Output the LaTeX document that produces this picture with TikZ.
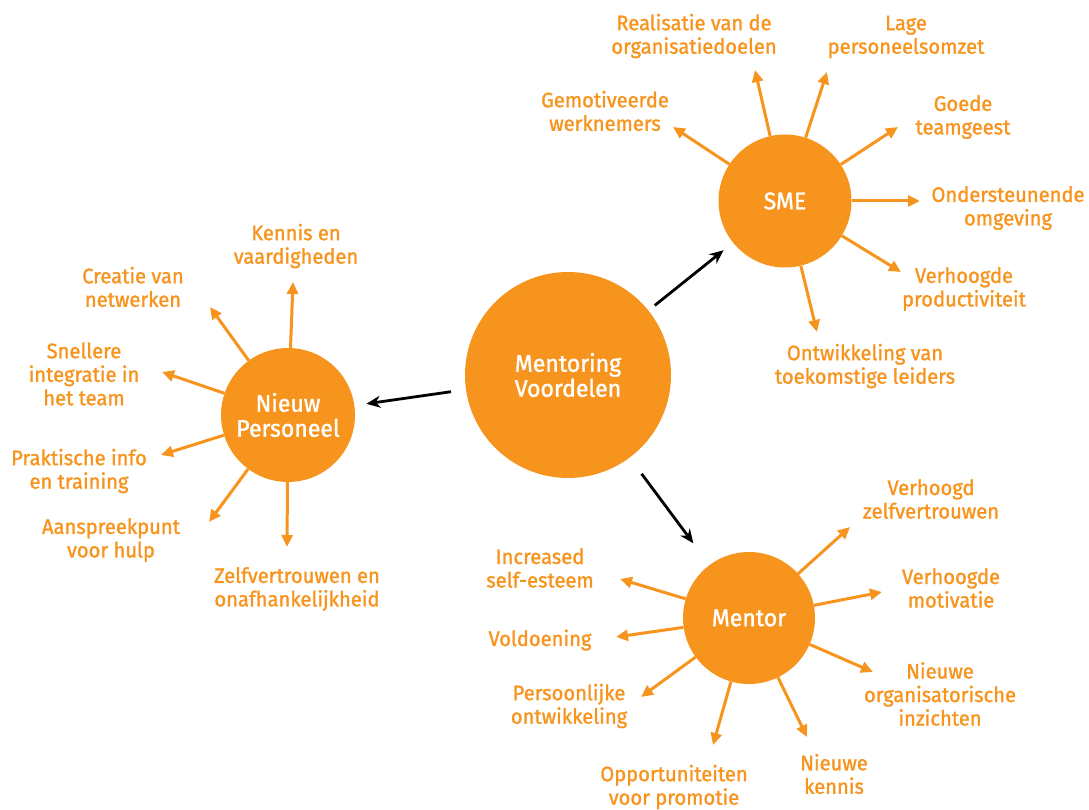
\documentclass[tikz,border=0pt]{standalone}
\usepackage{fontspec}
\setmainfont{Fira Sans}[FakeStretch=0.96,FakeBold=1.3]
\usetikzlibrary{arrows.meta}
\definecolor{mentororange}{RGB}{247,148,30}

\begin{document}
\begin{tikzpicture}[x=1pt,y=-1pt]
\useasboundingbox (0,0) rectangle (1089,810);
% circles
\begin{scope}[every node/.style={circle,fill=mentororange,text=white,align=center,inner sep=0pt,font=\fontsize{24}{25}\selectfont}]
    \node[minimum size=206pt] (MV) at (568,375) {Mentoring\\Voordelen};
    \node[minimum size=133pt] (SME) at (785,201) {SME};
    \node[minimum size=134pt] (NP) at (288,415) {Nieuw\\Personeel};
    \node[minimum size=132pt] (M) at (749,618) {Mentor};
\end{scope}
% labels
\begin{scope}[every node/.style={text=mentororange,align=center,inner sep=0pt,font=\fontsize{21}{23.5}\selectfont}]
    \node (gemotiveerd) at (605,111) {Gemotiveerde\\werknemers};
    \node (realisatie) at (694,36) {Realisatie van de\\organisatiedoelen};
    \node (omzet) at (906,37) {Lage\\personeelsomzet};
    \node (teamgeest) at (963,117) {Goede\\teamgeest};
    \node (omgeving) at (1008,208) {Ondersteunende\\omgeving};
    \node (productief) at (964,289) {Verhoogde\\productiviteit};
    \node (leiders) at (865,366) {Ontwikkeling van\\toekomstige leiders};
    \node (kennis) at (296,246) {Kennis en\\vaardigheden};
    \node (netwerk) at (133,287) {Creatie van\\netwerken};
    \node (integratie) at (84,374) {Snellere\\integratie in\\het team};
    \node (info) at (79,471) {Praktische info\\en training};
    \node (hulp) at (111,540) {Aanspreekpunt\\voor hulp};
    \node (onafh) at (297,589) {Zelfvertrouwen en\\onafhankelijkheid};
    \node (esteem) at (540,568) {Increased\\self-esteem};
    \node (voldoening) at (540,640) {Voldoening};
    \node (persoonlijk) at (569,706) {Persoonlijke\\ontwikkeling};
    \node (promotie) at (674,787) {Opportuniteiten\\voor promotie};
    \node (nkennis) at (834,774) {Nieuwe\\kennis};
    \node (zelfv) at (931,499) {Verhoogd\\zelfvertrouwen};
    \node (motivatie) at (951,588) {Verhoogde\\motivatie};
    \node (inzicht) at (940,694) {Nieuwe\\organisatorische\\inzichten};
\end{scope}
% arrow tips
\coordinate (s1) at (673,127);
\coordinate (s2) at (755,70);
\coordinate (s3) at (827,72);
\coordinate (s4) at (898,127);
\coordinate (s5) at (920,201);
\coordinate (s6) at (901,272);
\coordinate (s7) at (817,332);
\coordinate (n1) at (293,282);
\coordinate (n2) at (210,307);
\coordinate (n3) at (162,372);
\coordinate (n4) at (161,455);
\coordinate (n5) at (209,522);
\coordinate (n6) at (287,547);
\coordinate (m1) at (620,579);
\coordinate (m2) at (616,637);
\coordinate (m3) at (641,697);
\coordinate (m4) at (713,745);
\coordinate (m5) at (807,737);
\coordinate (m6) at (882,592);
\coordinate (m7) at (873,672);
\coordinate (m8) at (850,527);
\begin{scope}[every edge/.style={draw=mentororange,line width=3pt,-{Triangle[length=12pt,width=11pt]}}]
    \path (SME) edge (s1) edge (s2) edge (s3) edge (s4) edge (s5) edge (s6) edge (s7);
    \path (NP) edge (n1) edge (n2) edge (n3) edge (n4) edge (n5) edge (n6);
    \path (M) edge (m1) edge (m2) edge (m3) edge (m4) edge (m5) edge (m6) edge (m7) edge (m8);
\end{scope}
\begin{scope}[every edge/.style={draw=black,line width=2.8pt,-{Stealth[length=14pt,width=12pt]}}]
    \path [shorten <=8pt,shorten >=12pt] (MV) edge (SME);
    \path [shorten <=15pt,shorten >=12pt] (MV) edge (NP);
    \path [shorten <=20pt,shorten >=27pt] (MV) edge (M);
\end{scope}
\end{tikzpicture}
\end{document}
